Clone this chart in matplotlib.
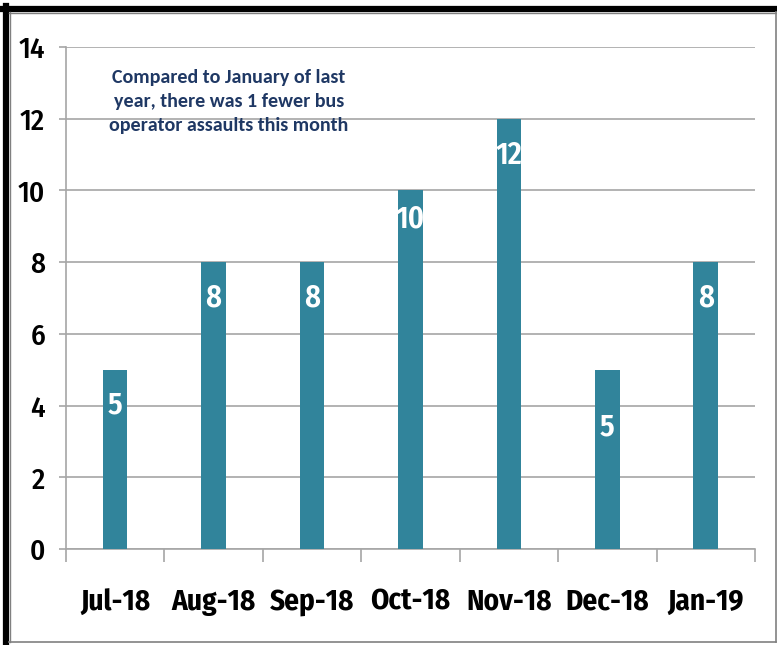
import matplotlib.pyplot as plt
from matplotlib.lines import Line2D
from matplotlib.patches import Rectangle
import numpy as np

# データ
months = ["Jul-18", "Aug-18", "Sep-18", "Oct-18", "Nov-18", "Dec-18", "Jan-19"]
assaults = [5, 8, 8, 10, 12, 5, 8]
y_ticks = [0, 2, 4, 6, 8, 10, 12, 14]
note = "Compared to January of last\nyear, there was 1 fewer bus\noperator assaults this month"

BAR_COLOR = "#31849B"
GRID_COLOR = "#A6A6A6"
COND = ["Fira Sans Condensed", "DejaVu Sans"]
NOTE_FONT = ["Carlito", "DejaVu Sans"]

fig = plt.figure(figsize=(7.77, 6.45), dpi=100)
ax = fig.add_axes([0.0849, 0.1488, 0.8868, 0.7783])

x = np.arange(len(months))
ax.bar(x, assaults, width=0.25, color=BAR_COLOR, zorder=3)

# 棒の中のラベル（元の図では位置が少しずつずれている）
label_drop = [0.98, 1.0, 1.0, 0.8, 1.03, 1.6, 1.0]
for xi, v, d in zip(x, assaults, label_drop):
    ax.text(xi, v - d, str(v), ha="center", va="center", color="white",
            fontsize=22, fontweight=600, family=COND, zorder=4)

ax.set_xlim(-0.5, len(months) - 0.5)
ax.set_ylim(0, 14)
ax.set_yticks(y_ticks)
ax.set_yticklabels([str(t) for t in y_ticks], family=COND, fontsize=21, fontweight=500)
ax.tick_params(axis="y", length=5, color=GRID_COLOR, width=1.2, pad=10)

ax.set_xticks(x)
ax.set_xticklabels(months, family=COND, fontsize=21, fontweight="bold")
ax.set_xticks(np.arange(-0.5, len(months)), minor=True)
ax.tick_params(axis="x", which="major", length=0, pad=28)
ax.tick_params(axis="x", which="minor", length=9.5, color=GRID_COLOR, width=1.2)

ax.grid(axis="y", color=GRID_COLOR, linewidth=1.2, zorder=0)
for side in ["top", "right"]:
    ax.spines[side].set_visible(False)
for side in ["left", "bottom"]:
    ax.spines[side].set_color(GRID_COLOR)
    ax.spines[side].set_linewidth(1.2)

# 注記（白い背景でグリッド線を隠す）
ax.add_patch(Rectangle((-0.236, 11.0), 2.794, 2.7, facecolor="white",
                       edgecolor="none", zorder=1))
ax.text(1.156, 12.47, note, ha="center", va="center", color="#1F3864",
        fontsize=14.4, fontweight="bold", family=NOTE_FONT,
        linespacing=1.5, zorder=5)

# 外枠
W, H = 777, 645
def fx(xp):
    return xp / W
def fy(yp):
    return 1 - yp / H

fig.add_artist(Line2D([fx(3), fx(777)], [fy(9)] * 2, color="black", lw=4.5))
fig.add_artist(Line2D([fx(6)] * 2, [fy(6), fy(642)], color="black", lw=4.5))
fig.add_artist(Line2D([fx(9), fx(776)], [fy(12.5)] * 2, color="#808080", lw=1))
fig.add_artist(Line2D([fx(9.5)] * 2, [fy(12), fy(642)], color="#808080", lw=1))
fig.add_artist(Line2D([fx(775.5)] * 2, [fy(12), fy(642)], color="#808080", lw=1.2))
fig.add_artist(Line2D([fx(9), fx(776)], [fy(642)] * 2, color="#808080", lw=1.2))

fig.savefig("out.png", dpi=100)
